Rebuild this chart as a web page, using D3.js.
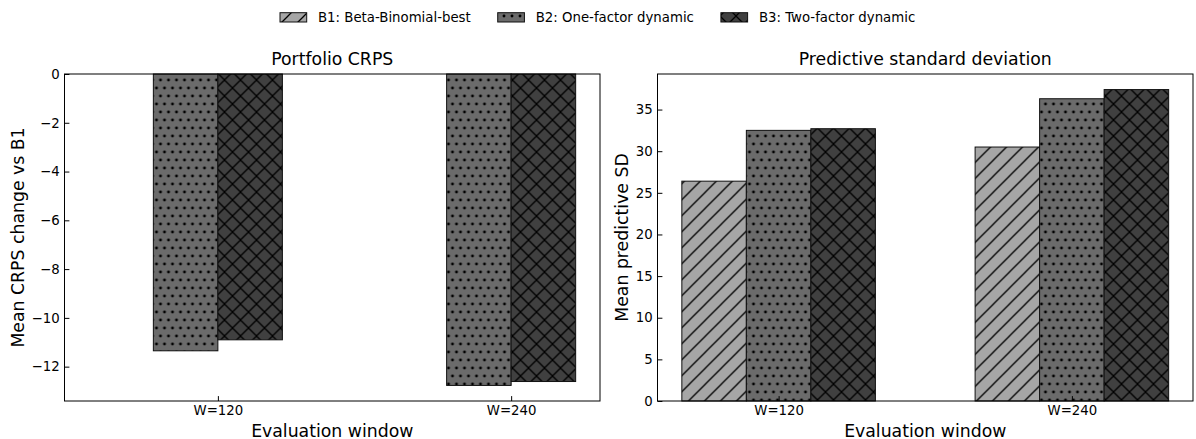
<!DOCTYPE html>
<html>
<head>
<meta charset="utf-8">
<script src="https://cdn.jsdelivr.net/npm/d3@7"></script>
<style>
  body { margin: 0; background: #fff; }
  text { font-family: "DejaVu Sans", sans-serif; fill: #000; }
</style>
</head>
<body>
<div id="chart"></div>
<script>
// chart values
const windows = ["W=120", "W=240"];
const models  = ["B1: Beta-Binomial-best", "B2: One-factor dynamic", "B3: Two-factor dynamic"];

// portfolio crps change vs B1 (B1 itself is the zero baseline)
const crpsB1 = [0, 0];
const crpsB2 = [-11.35, -12.77];
const crpsB3 = [-10.9, -12.61];

// mean predictive sd
const sdB1 = [26.4, 30.5];
const sdB2 = [32.5, 36.3];
const sdB3 = [32.7, 37.4];

const crpsTicks = [-12, -10, -8, -6, -4, -2, 0];
const sdTicks   = [0, 5, 10, 15, 20, 25, 30, 35];

(function() {

  let width  = 1196,
      height = 439;

  let top    = 74,
      bottom = 401,
      panelW = 535.5,
      barW   = 0.22,
      tick   = 4.9;

  let fills   = ["#a6a6a6", "#6b6b6b", "#404040"];
  let hatches = ["hatch-diag", "hatch-dots", "hatch-cross"];

  let svg = d3.select("#chart")
    .append ("svg")
    .attr   ("width", width)
    .attr   ("height", height);

  svg.append("rect")
    .attr ("width", width)
    .attr ("height", height)
    .attr ("fill", "#fff");

  // hatch patterns, one per model
  let defs = svg.append("defs");

  function pattern(id, size, h) {
    return defs.append("pattern")
      .attr ("id", id)
      .attr ("patternUnits", "userSpaceOnUse")
      .attr ("width", size)
      .attr ("height", h || size);
  }

  let p = 16;
  let diag  = `M0,${p}L${p},0M${-p/4},${p/4}L${p/4},${-p/4}M${3*p/4},${5*p/4}L${5*p/4},${3*p/4}`;
  let cross = `M0,0L${p},${p}M${-p/4},${3*p/4}L${p/4},${5*p/4}M${3*p/4},${-p/4}L${5*p/4},${p/4}`;

  pattern("hatch-diag", p).append("path")
    .attr ("d", diag)
    .attr ("stroke", "#000")
    .attr ("stroke-width", 1.3);

  pattern("hatch-cross", p).append("path")
    .attr ("d", diag + cross)
    .attr ("stroke", "#000")
    .attr ("stroke-width", 1.3);

  // staggered small dots
  let o = 8;
  let dots = pattern("hatch-dots", o, 2 * o);
  [[0, 0], [o, 0], [o / 2, o], [0, 2 * o], [o, 2 * o]].forEach((c) => {
    dots.append("circle")
      .attr ("cx", c[0])
      .attr ("cy", c[1])
      .attr ("r", 1.45)
      .attr ("fill", "#000");
  });

  let panels = [
    { left: 64.5,  title: "Portfolio CRPS", ylabel: "Mean CRPS change vs B1",
      series: [crpsB1, crpsB2, crpsB3], ticks: crpsTicks, offsets: [-1.5, -0.5, 0.5],
      labelX: -41 },
    { left: 657.5, title: "Predictive standard deviation", ylabel: "Mean predictive SD",
      series: [sdB1, sdB2, sdB3], ticks: sdTicks, offsets: [-1, 0, 1],
      labelX: -30 }
  ];

  panels.forEach((pn) => {
    let g = svg.append("g")
      .attr ("transform", `translate(${pn.left},0)`);

    // x domain from bar extents plus 5% margin
    let lo  = d3.min(pn.offsets) * barW - barW / 2,
        hi  = windows.length - 1 + d3.max(pn.offsets) * barW + barW / 2,
        pad = (hi - lo) * 0.05;

    let x = d3.scaleLinear()
      .domain ([lo - pad, hi + pad])
      .range  ([0, panelW]);

    let all = pn.series.flat();
    let ymin = Math.min(0, d3.min(all) * 1.05),
        ymax = Math.max(0, d3.max(all) * 1.05);

    let y = d3.scaleLinear()
      .domain ([ymin, ymax])
      .range  ([bottom, top]);

    // bars: flat fill, then hatch + outline on top
    pn.series.forEach((vals, m) => {
      ["fill", "hatch"].forEach((layer) => {
        g.selectAll(`.${layer}-${m}`)
          .data  (vals)
          .enter ().append("rect")
          .attr  ("class", `${layer}-${m}`)
          .attr  ("x", (d, i) => x(i + pn.offsets[m] * barW - barW / 2))
          .attr  ("width", x(barW) - x(0))
          .attr  ("y", (d) => y(Math.max(0, d)))
          .attr  ("height", (d) => Math.abs(y(d) - y(0)))
          .attr  ("fill", layer === "fill" ? fills[m] : `url(#${hatches[m]})`)
          .attr  ("stroke", (d) => layer === "fill" || d === 0 ? "none" : "#111")
          .attr  ("stroke-width", 1);
      });
    });

    // axes, ticks pointing inward
    let xAxis = d3.axisBottom(x)
      .tickValues  (windows.map((d, i) => i))
      .tickFormat  ((i) => windows[i])
      .tickSize    (-tick)
      .tickPadding (tick);

    let yAxis = d3.axisLeft(y)
      .tickValues  (pn.ticks)
      .tickFormat  (d3.format("d"))
      .tickSize    (-tick)
      .tickPadding (tick);

    let gx = g.append("g")
      .attr ("transform", `translate(0,${bottom})`)
      .call (xAxis);

    let gy = g.append("g")
      .call (yAxis);

    [gx, gy].forEach((a) => {
      a.select(".domain").remove();
      a.selectAll("line").attr("stroke", "#000");
      a.selectAll("text")
        .style ("font-family", "DejaVu Sans")
        .style ("font-size", "13.3px")
        .attr  ("fill", "#000");
    });

    // frame
    g.append("rect")
      .attr ("x", 0)
      .attr ("y", top)
      .attr ("width", panelW)
      .attr ("height", bottom - top)
      .attr ("fill", "none")
      .attr ("stroke", "#000")
      .attr ("stroke-width", 1);

    g.append("text")
      .attr  ("x", panelW / 2)
      .attr  ("y", 65)
      .attr  ("text-anchor", "middle")
      .style ("font-size", "17.3px")
      .text  (pn.title);

    g.append("text")
      .attr  ("x", panelW / 2)
      .attr  ("y", 436.5)
      .attr  ("text-anchor", "middle")
      .style ("font-size", "17.3px")
      .text  ("Evaluation window");

    g.append("text")
      .attr  ("transform", `translate(${pn.labelX},${(top + bottom) / 2}) rotate(-90)`)
      .attr  ("text-anchor", "middle")
      .style ("font-size", "17.3px")
      .text  (pn.ylabel);
  });

  // legend across the top
  let legend = svg.append("g");
  let lx = 280;
  models.forEach((name, m) => {
    legend.append("rect")
      .attr ("x", lx)
      .attr ("y", 12.7)
      .attr ("width", 26.7)
      .attr ("height", 9.3)
      .attr ("fill", fills[m]);
    legend.append("rect")
      .attr ("x", lx)
      .attr ("y", 12.7)
      .attr ("width", 26.7)
      .attr ("height", 9.3)
      .attr ("fill", `url(#${hatches[m]})`)
      .attr ("stroke", "#111")
      .attr ("stroke-width", 1);
    let t = legend.append("text")
      .attr  ("x", lx + 38)
      .attr  ("y", 22)
      .style ("font-size", "13.3px")
      .text  (name);
    lx += 38 + t.node().getComputedTextLength() + 27;
  });

})();
</script>
</body>
</html>
